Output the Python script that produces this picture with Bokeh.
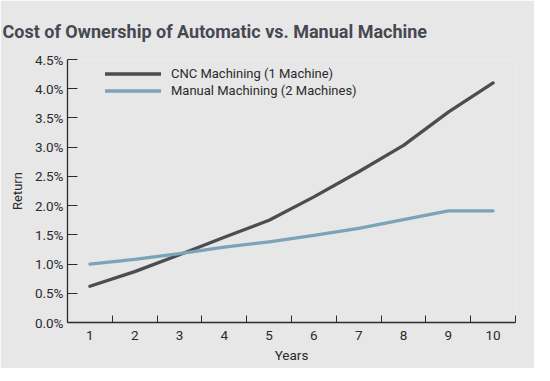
from bokeh.plotting import figure
from bokeh.models import (FixedTicker, NumeralTickFormatter, Legend, LegendItem,
                          ColumnDataSource, Range1d)
from bokeh.embed import file_html
from bokeh.resources import INLINE

title_text = "Cost of Ownership of Automatic vs. Manual Machine"
years = [1, 2, 3, 4, 5, 6, 7, 8, 9, 10]
cnc = [0.0062, 0.0087, 0.0116, 0.0146, 0.0175, 0.0215, 0.0258, 0.0303, 0.0360, 0.0410]
manual = [0.0100, 0.0108, 0.0118, 0.0129, 0.0138, 0.0149, 0.0161, 0.0176, 0.0191, 0.0191]
y_ticks = [0.0, 0.005, 0.01, 0.015, 0.02, 0.025, 0.03, 0.035, 0.04, 0.045]
x_bounds = [1.5, 2.5, 3.5, 4.5, 5.5, 6.5, 7.5, 8.5, 9.5, 10.5]

BG = "#e7e7e7"
DARK = "#4a4d52"
BLUE = "#7ca3b9"
TXT = "#2b2b2b"
FONT = "Roboto"

src = ColumnDataSource(dict(year=years, cnc=cnc, manual=manual))

p = figure(frame_width=448, frame_height=263,
           x_range=Range1d(0.5, 10.5), y_range=Range1d(0, 0.045),
           output_backend="svg", toolbar_location=None,
           background_fill_color=BG, border_fill_color=BG,
           min_border_left=67, min_border_right=19, min_border_top=56,
           min_border_bottom=46)
p.outline_line_color = None
p.grid.visible = False

p.title.text = title_text
p.title.text_font = FONT
p.title.text_font_size = "18px"
p.title.text_font_style = "bold"
p.title.text_color = "#464852"
p.title.offset = -65
p.title.standoff = 36

r1 = p.line("year", "cnc", source=src, line_color=DARK, line_width=3.3, line_cap="round")
r2 = p.line("year", "manual", source=src, line_color=BLUE, line_width=3.3, line_cap="round")

xa = p.xaxis[0]
xa.ticker = FixedTicker(ticks=years, minor_ticks=x_bounds)
xa.major_tick_in = 0
xa.major_tick_out = 0
xa.minor_tick_in = 7
xa.minor_tick_out = 0
xa.minor_tick_line_color = TXT
xa.axis_line_color = TXT
xa.axis_line_width = 1.3
xa.major_label_standoff = 8
xa.major_label_text_font = FONT
xa.major_label_text_font_size = "13.5px"
xa.major_label_text_color = TXT
xa.axis_label = "Years"
xa.axis_label_text_font = FONT
xa.axis_label_text_font_size = "13.5px"
xa.axis_label_text_font_style = "normal"
xa.axis_label_text_color = TXT
xa.axis_label_standoff = 4

ya = p.yaxis[0]
ya.ticker = FixedTicker(ticks=y_ticks)
ya.formatter = NumeralTickFormatter(format="0.0%")
ya.major_tick_in = 10
ya.major_tick_out = 0
ya.minor_tick_in = 0
ya.minor_tick_out = 0
ya.major_tick_line_color = TXT
ya.axis_line_color = TXT
ya.axis_line_width = 1.3
ya.major_label_standoff = 4
ya.major_label_text_font = FONT
ya.major_label_text_font_size = "13.5px"
ya.major_label_text_color = TXT
ya.axis_label = "Return"
ya.axis_label_text_font = FONT
ya.axis_label_text_font_size = "13px"
ya.axis_label_text_font_style = "normal"
ya.axis_label_text_color = TXT
ya.axis_label_standoff = 7

legend = Legend(items=[LegendItem(label="CNC Machining (1 Machine)", renderers=[r1]),
                       LegendItem(label="Manual Machining (2 Machines)", renderers=[r2])],
                location=(38, 223), orientation="vertical",
                glyph_width=56, glyph_height=17, label_height=17, spacing=0,
                label_standoff=10, padding=0, margin=0,
                background_fill_alpha=0, border_line_alpha=0,
                label_text_font=FONT, label_text_font_size="13px",
                label_text_color=TXT)
p.add_layout(legend, "center")

open("out.html", "w").write(file_html(p, INLINE))
